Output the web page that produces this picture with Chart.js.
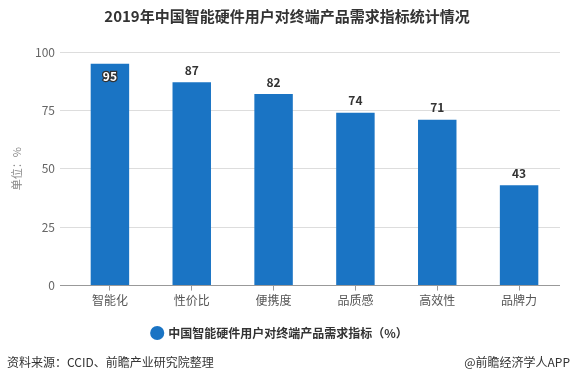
<!DOCTYPE html>
<html>
<head>
<meta charset="utf-8">
<script src="https://cdn.jsdelivr.net/npm/chart.js@4"></script>
<style>
  body { margin: 0; background: #fff; font-family: "Microsoft YaHei", "Noto Sans CJK SC", sans-serif; }
  #wrap { position: relative; width: 574px; height: 384px; }
  #title { position: absolute; top: 5px; left: 0; width: 574px; text-align: center;
           font-size: 15px; font-weight: bold; color: #333; }
  .foot { position: absolute; top: 353px; font-size: 12px; color: #333; }
</style>
</head>
<body>
<div id="wrap">
  <canvas id="chart" width="574" height="384"></canvas>
  <div id="title">2019年中国智能硬件用户对终端产品需求指标统计情况</div>
  <div class="foot" style="left:7px">资料来源：CCID、前瞻产业研究院整理</div>
  <div class="foot" style="right:4px">@前瞻经济学人APP</div>
</div>
<script>
// data
const categories = ["智能化", "性价比", "便携度", "品质感", "高效性", "品牌力"];
const values = [95, 87, 82, 74, 71, 43];
const seriesName = "中国智能硬件用户对终端产品需求指标（%）";
const yTicks = [0, 25, 50, 75, 100];

const barColor = "#1a74c4";
const font = "'Microsoft YaHei', 'Noto Sans CJK SC', sans-serif";

// draws the value above each bar (inside the bar when there is no room)
const valueLabels = {
  id: "valueLabels",
  afterDatasetsDraw(chart) {
    const ctx = chart.ctx;
    const meta = chart.getDatasetMeta(0);
    ctx.save();
    ctx.font = "bold 12px " + font;
    ctx.textAlign = "center";
    ctx.textBaseline = "middle";
    meta.data.forEach((bar, i) => {
      let y = bar.y - 12;
      if (y < chart.chartArea.top + 10) {
        y = bar.y + 13;
        ctx.lineWidth = 2.5;
        ctx.strokeStyle = "#333";
        ctx.strokeText(values[i], bar.x, y);
        ctx.fillStyle = "#fff";
      } else {
        ctx.fillStyle = "#333";
      }
      ctx.fillText(values[i], bar.x, y);
    });
    ctx.restore();
  }
};

new Chart(document.getElementById("chart"), {
  type: "bar",
  data: {
    labels: categories,
    datasets: [{
      label: seriesName,
      data: values,
      backgroundColor: barColor,
      barPercentage: 0.47,
      categoryPercentage: 1
    }]
  },
  options: {
    responsive: false,
    animation: false,
    layout: { padding: { top: 52, left: 0, right: 14, bottom: 35 } },
    plugins: {
      title: { display: false },
      tooltip: { enabled: false },
      legend: {
        position: "bottom",
        labels: {
          usePointStyle: true,
          pointStyle: "circle",
          boxWidth: 10,
          boxHeight: 10,
          padding: 16,
          color: "#333",
          font: { family: font, size: 12, weight: "bold" }
        }
      }
    },
    scales: {
      x: {
        border: { display: false },
        grid: {
          display: true,
          drawOnChartArea: false,
          drawTicks: true,
          tickLength: 5,
          offset: false,
          color: "#999"
        },
        ticks: { color: "#555", padding: 3, font: { family: font, size: 12 } }
      },
      y: {
        min: 0,
        max: 100,
        afterBuildTicks: (scale) => { scale.ticks = yTicks.map(v => ({ value: v })); },
        afterFit: (scale) => { scale.width = 69; },
        border: { display: false },
        grid: {
          color: (c) => c.tick && c.tick.value === 0 ? "#999" : "#ddd",
          tickLength: 9
        },
        ticks: { color: "#666", padding: 5, font: { family: font, size: 12 } },
        title: {
          display: true,
          text: "单位：%",
          color: "#888",
          padding: { top: 10, bottom: 0 },
          font: { family: font, size: 11 }
        }
      }
    }
  },
  plugins: [valueLabels]
});
</script>
</body>
</html>
